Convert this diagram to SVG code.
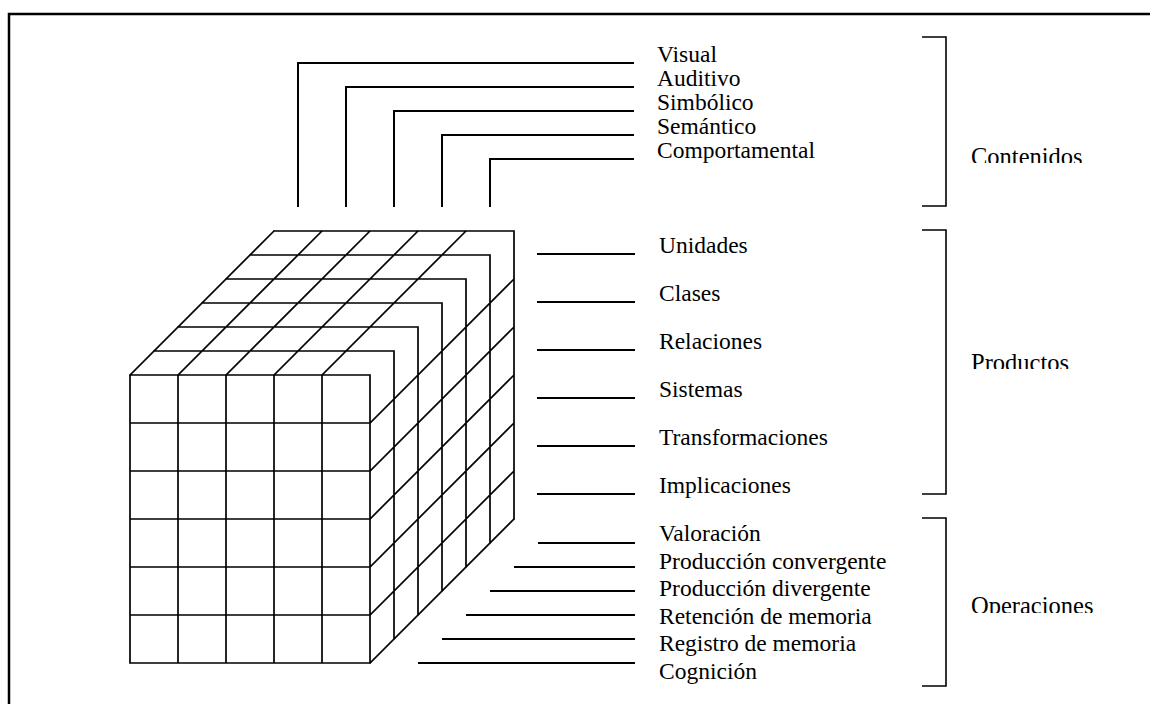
<svg xmlns="http://www.w3.org/2000/svg" width="1150" height="704" viewBox="0 0 1150 704">
  <style>
    .frame { fill: none; stroke: #000; stroke-width: 2.5; }
    .grid { fill: none; stroke: #000; stroke-width: 1.7; stroke-linecap: square; }
    .lead { fill: none; stroke: #000; stroke-width: 2; }
    .brace { fill: none; stroke: #000; stroke-width: 1.6; }
    .lbl { font-family: "Liberation Serif", "Times New Roman", serif; font-size: 23.5px; fill: #000; }
    .sec { font-family: "Liberation Serif", "Times New Roman", serif; font-size: 24.5px; fill: #000; }
  </style>
  <defs>
    <clipPath id="clipContenidos"><rect x="960" y="130" width="170" height="33"/></clipPath>
    <clipPath id="clipProductos"><rect x="960" y="335" width="170" height="34"/></clipPath>
    <clipPath id="clipOperaciones"><rect x="960" y="580" width="170" height="33"/></clipPath>
  </defs>

  <rect width="1150" height="704" fill="#fff"/>
  <!-- page frame (top and left edges) -->
  <path class="frame" d="M9,704 V14 H1150"/>

  <!-- the cube: front, top and right faces -->
  <g id="cube">
    <path class="grid" d="
      M130,375 V663 M178,375 V663 M226,375 V663 M274,375 V663 M322,375 V663 M370,375 V663
      M130,375 H370 M130,423 H370 M130,471 H370 M130,519 H370 M130,567 H370 M130,615 H370 M130,663 H370
      M154,351 H394 M178,327 H418 M202,303 H442 M226,279 H466 M250,255 H490 M274,231 H514
      M130,375 L274,231 M178,375 L322,231 M226,375 L370,231 M274,375 L418,231 M322,375 L466,231
      M394,351 V639 M418,327 V615 M442,303 V591 M466,279 V567 M490,255 V543 M514,231 V519
      M370,423 L514,279 M370,471 L514,327 M370,519 L514,375 M370,567 L514,423 M370,615 L514,471 M370,663 L514,519"/>
  </g>

  <!-- leader lines -->
  <g id="connectors">
    <path class="lead" d="M298,207 V63 H634 M346,207 V87 H634 M394,207 V111 H634 M442,207 V135 H634 M490,207 V159 H634"/>
    <path class="lead" d="M537,254 H635 M537,302 H635 M537,350 H635 M537,398 H635 M537,446 H635 M537,494 H635"/>
    <path class="lead" d="M538,543 H635 M514,567 H635 M490,591 H635 M466,615 H635 M442,639 H635 M418,663 H635"/>
  </g>

  <!-- Contenidos -->
  <g id="contenidos">
    <text class="lbl" x="657" y="62">Visual</text>
    <text class="lbl" x="657" y="86">Auditivo</text>
    <text class="lbl" x="657" y="110">Simbólico</text>
    <text class="lbl" x="657" y="134">Semántico</text>
    <text class="lbl" x="657" y="158">Comportamental</text>
    <path class="brace" d="M922,37 H946 V206 H922"/>
    <g clip-path="url(#clipContenidos)">
      <text class="sec" x="971" y="165">Contenidos</text>
    </g>
  </g>

  <!-- Productos -->
  <g id="productos">
    <text class="lbl" x="659" y="253">Unidades</text>
    <text class="lbl" x="659" y="301">Clases</text>
    <text class="lbl" x="659" y="349">Relaciones</text>
    <text class="lbl" x="659" y="397">Sistemas</text>
    <text class="lbl" x="659" y="445">Transformaciones</text>
    <text class="lbl" x="659" y="493">Implicaciones</text>
    <path class="brace" d="M922,230 H946 V494 H922"/>
    <g clip-path="url(#clipProductos)">
      <text class="sec" x="971" y="371">Productos</text>
    </g>
  </g>

  <!-- Operaciones -->
  <g id="operaciones">
    <text class="lbl" x="659" y="541">Valoración</text>
    <text class="lbl" x="659" y="569">Producción convergente</text>
    <text class="lbl" x="659" y="596">Producción divergente</text>
    <text class="lbl" x="659" y="624">Retención de memoria</text>
    <text class="lbl" x="659" y="651">Registro de memoria</text>
    <text class="lbl" x="659" y="679">Cognición</text>
    <path class="brace" d="M922,518 H946 V686 H922"/>
    <g clip-path="url(#clipOperaciones)">
      <text class="sec" x="971" y="614">Operaciones</text>
    </g>
  </g>
</svg>
